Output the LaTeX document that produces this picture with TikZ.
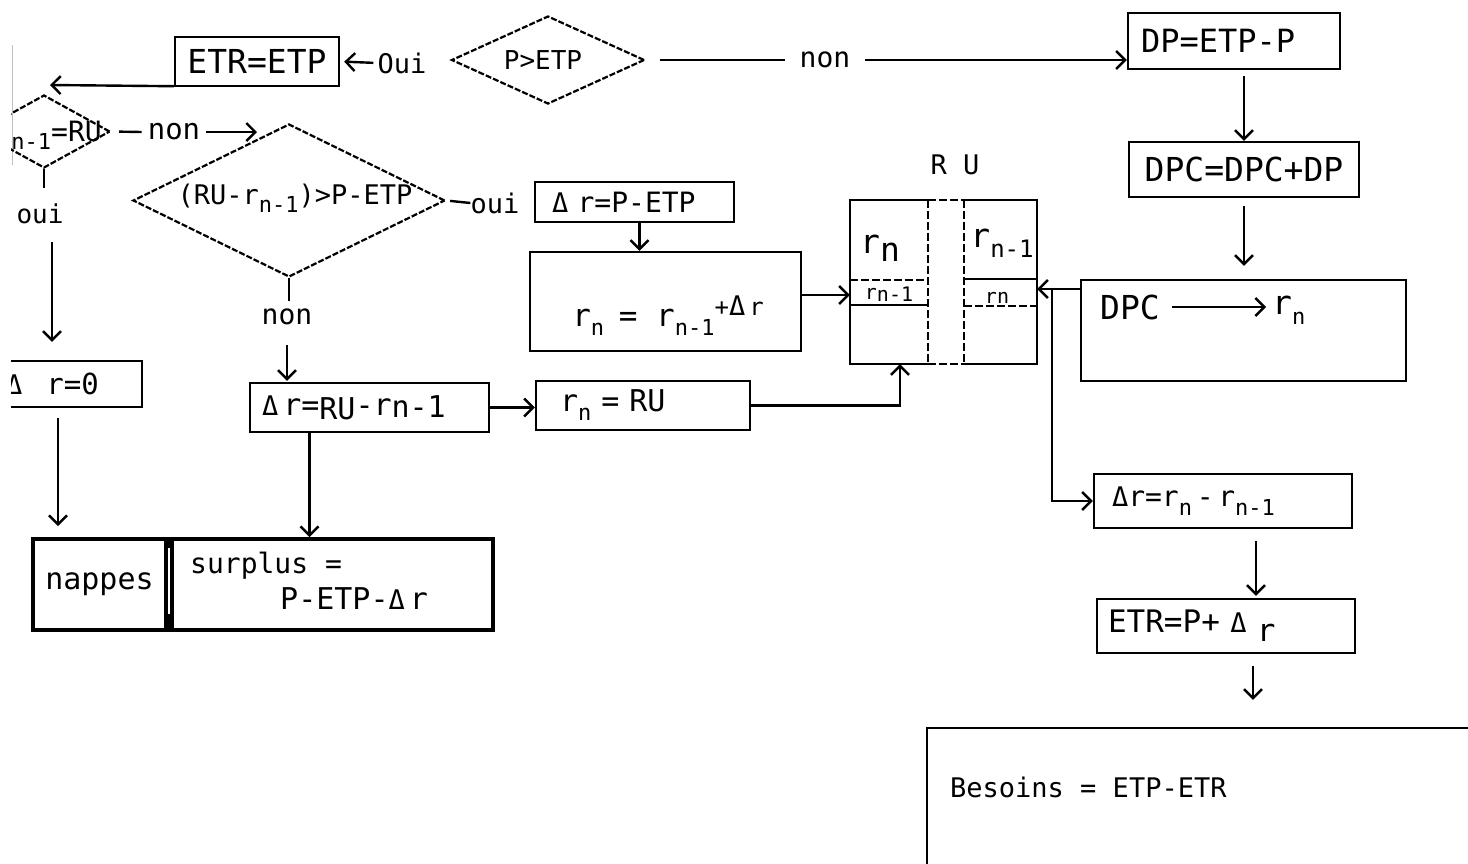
\documentclass[tikz,border=0pt]{standalone}
\usepackage{fontspec}
\setmainfont{DejaVu Sans Mono}
\usetikzlibrary{arrows.meta,shapes.geometric,calc}
\newcommand\sbs[1]{\raisebox{-0.3em}{\fontsize{22}{22}\selectfont #1}}
\newcommand\dlt{{\fontsize{27}{27}\selectfont Δ}}
\begin{document}
\begin{tikzpicture}[x=1pt,y=-1pt,
  every node/.style={inner sep=0pt, font=\fontsize{30}{34}\selectfont},
  fs/.style={font=\fontsize{#1}{#1}\selectfont},
  box/.style={draw, line width=2.4pt, rectangle, align=left},
  thickbox/.style={box, line width=4pt},
  dia/.style={draw, diamond, line width=2.2pt, dash pattern=on 6pt off 2pt},
  dsh/.style={dash pattern=on 8pt off 3pt},
  conn/.style={line width=2.4pt},
  arr/.style={conn, -{Straight Barb[length=9pt,width=18pt]}}
]
\useasboundingbox (0,0) rectangle (1468,863);
\fill[white] (0,0) rectangle (1468,863);
\draw[gray!50, line width=1pt] (12,45) -- (12,165);
\begin{scope}
\clip (11,0) rectangle (1468,863);
% top row
\node[box, minimum width=164pt, minimum height=49pt, fs=33] (etr1) at (257,61.5) {ETR=ETP};
\node[fs=27] (ouiA) at (402,63) {Oui};
\node[dia, minimum width=193pt, minimum height=88pt] (pd) at (548,60) {};
\node[fs=26] (pdt) at (543,60) {P>ETP};
\node[fs=28, inner xsep=15pt] (nonA) at (825,60) {non};
\node[box, minimum width=212pt, minimum height=56pt, text width=186pt, fs=32] (dp) at (1234,41) {DP=ETP-P};
\node[box, minimum width=230pt, minimum height=55pt, fs=33] (dpc) at (1244,169.5) {DPC=DPC+DP};
\node[box, minimum width=325pt, minimum height=101pt] (big) at (1243.5,330.5) {};
\node[fs=33, anchor=west] (dpct) at (1100,307) {DPC};
\node[fs=33, anchor=west] (rnt) at (1272,310) {r\sbs{n}};
% RU block
\node[minimum width=78pt, minimum height=164pt] (ruL) at (889,282) {};
\node[minimum width=73pt, minimum height=164pt] (ruR) at (1000.5,282) {};
\node[fs=27] (rut) at (955,165) {R U};
\draw[conn] (ruL.north east) -- (ruL.north west) -- (ruL.south west) -- (ruL.south east);
\draw[conn, dsh] (ruL.north east) -- (ruL.south east) (ruL.north east) -- (ruR.north west) (ruL.south east) -- (ruR.south west) (ruR.north west) -- (ruR.south west);
\draw[conn] (ruR.north west) -- (ruR.north east) -- (ruR.south east) -- (ruR.south west);
\draw[conn, dsh] ($(ruL.north west)+(0,80)$) -- ($(ruL.north east)+(0,80)$);
\draw[conn] ($(ruL.north west)+(0,105)$) -- ($(ruL.north east)+(0,105)$);
\draw[conn] ($(ruR.north west)+(0,79)$) -- ($(ruR.north east)+(0,79)$);
\draw[conn, dsh] ($(ruR.north west)+(0,106)$) -- ($(ruR.north east)+(0,106)$);
\node[fs=33] (ruLa) at (880,248) {r\raisebox{-0.25em}{n}};
\node[fs=20] (ruLb) at (889,294) {r\raisebox{-2pt}{n-1}};
\node[fs=33] (ruRa) at (1002,243) {r\raisebox{-0.3em}{\fontsize{24}{24}\selectfont n-1}};
\node[fs=20] (ruRb) at (997,298) {rn};
\coordinate (ruLin) at ([yshift=-13pt]ruL.west);
\coordinate (ruRin) at ([yshift=-7pt]ruR.east);
% middle boxes
\node[box, minimum width=199pt, minimum height=40pt, text width=165pt, fs=28] (dr1) at (634.5,202) {\dlt\ r=P-ETP};
\node[box, minimum width=271pt, minimum height=99pt] (rnb) at (665.5,301.5) {};
\node[fs=31] (rnbt) at (668,316) {r\sbs{n}\hspace{-4pt} = r\sbs{n-1}\raisebox{0.35em}{\fontsize{24}{24}\selectfont +\dlt\,r}};
\node[box, minimum width=214pt, minimum height=49pt, text width=166pt, fs=30] (rnru) at (643,405.5) {r\sbs{n} = RU};
\node[box, minimum width=239pt, minimum height=49pt, text width=215pt, fs=30] (dr2) at (369.5,407.5) {\dlt\,r=\raisebox{-4pt}{RU}-r\raisebox{-2pt}{n-1}};
\node[box, minimum width=162pt, minimum height=46pt] (dr0) at (61,384) {};
\node[fs=29, anchor=west] (dr0t) at (6,384) {\dlt\hspace{24pt}r=0};
\node[thickbox, minimum width=133pt, minimum height=91pt, fs=30] (nap) at (99.5,584.5) {nappes};
\node[thickbox, minimum width=321pt, minimum height=91pt] (sur) at (332.5,584.5) {};
\node[fs=28, anchor=west] (surt1) at (190,566) {surplus =};
\node[fs=30, anchor=west] (surt2) at (280,599) {P-ETP-\dlt\,r};
\node[box, minimum width=258pt, minimum height=54pt, text width=222pt, fs=28] (drn) at (1223,501) {\dlt r=r\sbs{n}\,-\,r\sbs{n-1}};
\node[box, minimum width=258pt, minimum height=54pt, text width=236pt, fs=31] (etr2) at (1226,626) {ETR=P+\ \dlt\ \raisebox{-0.3em}{r}};
\node[box, minimum width=573pt, minimum height=172pt] (bes) at (1213.5,814) {};
\node[fs=27, anchor=west] (best) at (950,787) {Besoins = ETP-ETR};
% diamonds
\node[dia, minimum width=132pt, minimum height=73pt] (hex) at (44,131.5) {};
\node[fs=28, anchor=east] (hext) at (102,135) {r\sbs{n-1}=RU};
\node[dia, minimum width=312pt, minimum height=153pt] (bigd) at (289,200.5) {};
\node[fs=27] (bigdt) at (295,198) {(RU-r\sbs{n-1})>P-ETP};
% labels
\node[fs=29, inner xsep=6pt] (nonB) at (174,132) {non};
\coordinate (nonBtip) at (257,132);
\node[fs=26] (ouiB) at (40,214) {oui};
\node[fs=27] (ouiC) at (495,203) {oui};
\node[fs=28] (nonC) at (287,317) {non};
\coordinate (lefttip) at (50,85);
% connectors
\draw[arr, shorten <=4pt, shorten >=4pt] (ouiA.west) -- (etr1.east);
\draw[conn, shorten <=14pt] (pd.east) -- (nonA.west);
\draw[arr] (nonA.east) -- (nonA.east -| dp.west);
\draw[arr, shorten <=6pt] (dp.south -| dpc.north) -- (dpc.north);
\draw[arr, shorten <=8pt, shorten >=13pt] (dpc.south) -- (dpc.south |- big.north);
\draw[arr] (big.west |- ruRin) -- (ruRin);
\draw[arr] (ruRin) -- ++(15,0) |- (drn.west);
\draw[arr, shorten <=12pt, shorten >=2pt] ([xshift=33pt]drn.south) -- ([xshift=33pt]drn.south |- etr2.north);
\draw[arr, shorten <=12pt, shorten >=27pt] ([xshift=27pt]etr2.south) -- ([xshift=27pt]etr2.south |- bes.north);
\draw[arr] ([yshift=1pt]etr1.south west) -- (lefttip);
\draw[conn, shorten <=8pt] (hex.east) -- (nonB.west);
\draw[arr] (nonB.east) -- (nonBtip);
\draw[conn, shorten >=16pt] (hex.south) -- (hex.south |- ouiB.north);
\draw[arr, shorten <=18pt, shorten >=18pt] ([xshift=12pt]ouiB.south) -- ([xshift=12pt]ouiB.south |- dr0.north);
\draw[conn, shorten <=4pt] (bigd.east) -- (ouiC.west);
\draw[conn, shorten >=8pt] (bigd.south) -- (bigd.south |- nonC.north);
\draw[arr, shorten <=20pt, shorten >=1pt] (nonC.south) -- (nonC.south |- dr2.north);
\draw[arr] ([xshift=5pt]dr1.south) -- ([xshift=5pt]dr1.south |- rnb.north);
\draw[arr] (rnb.east |- ruLin) -- (ruLin);
\draw[arr] (dr2.east) -- (dr2.east -| rnru.west);
\draw[arr] (rnru.east) -| ([xshift=11pt]ruL.south);
\draw[arr] ([xshift=-60pt]dr2.south) -- ([xshift=-60pt]dr2.south |- sur.north);
\draw[arr, shorten <=10pt, shorten >=11pt] ([xshift=-3pt]dr0.south) -- ([xshift=-3pt]dr0.south |- nap.north);
\draw[arr, shorten <=12pt, shorten >=6pt] (dpct.east) -- (dpct.east -| rnt.west);
\draw[line width=2pt] ($(nap.north east)!0.5!(sur.north west)$) -- ++(0,11);
\draw[line width=2pt] ($(nap.south east)!0.5!(sur.south west)$) -- ++(0,-18);
\end{scope}
\end{tikzpicture}
\end{document}
